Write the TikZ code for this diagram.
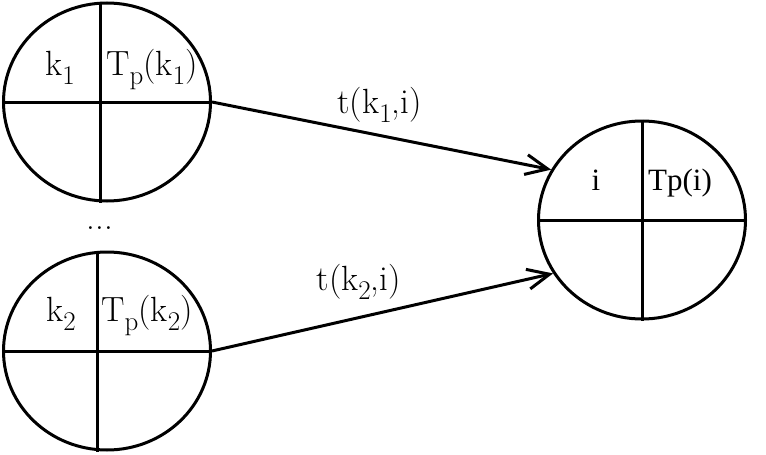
\documentclass[tikz,border=0pt]{standalone}
\usepackage{amsmath}
\usepackage{fontspec}
\newfontfamily\timesfont{Liberation Serif}
\newcommand{\lowsub}[1]{\raisebox{-9pt}{\fontsize{27}{30}\selectfont #1}}
\usepackage{tikz}
\usetikzlibrary{shapes.geometric, arrows.meta}

\tikzset{
  quad/.style={ellipse, draw, minimum width=207pt, minimum height=198pt, inner sep=0pt},
  lab/.style={anchor=base, inner sep=0pt}
}

\begin{document}
\begin{tikzpicture}[x=1pt, y=-1pt, line width=3pt, font=\fontsize{35}{40}\selectfont,
    >={Straight Barb[length=22pt, width=20pt]}]
        \useasboundingbox (0,0) rectangle (766,455);
        \node[quad] (k1) at (107,102) {};
        \node[quad] (k2) at (107,351) {};
        \node[quad] (ci) at (642,220) {};
        \foreach \n/\dx in {k1/-7, k2/-10, ci/0} {
          \draw (\n.west) -- (\n.east);
          \draw ([xshift=\dx pt]\n.north) -- ([xshift=\dx pt]\n.south);
        }
        \node[lab] (k1name) at (60,75) {k\lowsub{1}};
        \node[lab] (k1tp) at (152,75) {T\lowsub{p}(k\lowsub{1})};
        \node[lab] (k2name) at (61,321) {k\lowsub{2}};
        \node[lab] (k2tp) at (147,321) {T\lowsub{p}(k\lowsub{2})};
        \node[lab, font=\timesfont\fontsize{31}{36}\selectfont] (iname) at (596,190) {i};
        \node[lab, font=\timesfont\fontsize{31}{36}\selectfont] (itp) at (680,190) {Tp(i)};
        \node[lab] (dots) at (100,229) {...};
        \draw[->] (k1.east) -- (ci.151) node[lab, pos=0.494, yshift=22pt] {t(k\lowsub{1},i)};
        \draw[->] (k2.east) -- (ci.211) node[lab, pos=0.43, yshift=27pt] {t(k\lowsub{2},i)};
      \end{tikzpicture}
\end{document}
